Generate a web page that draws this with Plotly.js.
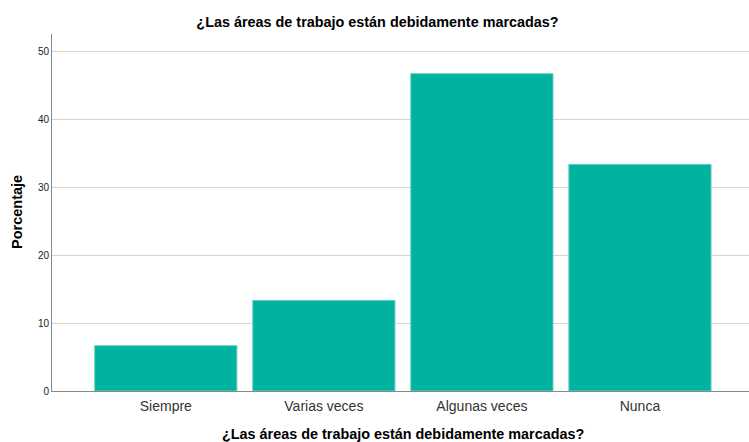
<!DOCTYPE html>
<html>
<head>
<meta charset="utf-8">
<script src="https://cdn.plot.ly/plotly-3.0.1.min.js"></script>
<style>html,body{margin:0;padding:0;background:#fff;}#chart{width:749px;height:442px;}</style>
</head>
<body>
<div id="chart"></div>
<script>
const categories = ["Siempre", "Varias veces", "Algunas veces", "Nunca"];
const percentages = [6.67, 13.33, 46.67, 33.33];
const yTicks = [0, 10, 20, 30, 40, 50];
const titleText = "¿Las áreas de trabajo están debidamente marcadas?";

const trace = {
  type: "bar",
  x: categories,
  y: percentages,
  width: 0.9,
  marker: { color: "#00b2a0", line: { color: "#6fd0c4", width: 1 } },
  hoverinfo: "x+y"
};

const layout = {
  width: 749,
  height: 442,
  margin: { l: 52, r: 0, t: 34, b: 51 },
  paper_bgcolor: "#ffffff",
  plot_bgcolor: "#ffffff",
  font: { family: "Liberation Sans, Arial, sans-serif", color: "#000" },
  title: {
    text: "<b>" + titleText + "</b>",
    font: { size: 14.4, family: "Liberation Sans, Arial, sans-serif", color: "#000" },
    x: 377.5 / 749, xanchor: "center", xref: "container",
    y: 1 - 22 / 442, yanchor: "middle", yref: "container"
  },
  xaxis: {
    type: "category",
    range: [-0.72, 3.69],
    showgrid: false,
    showline: true,
    linecolor: "#888888",
    linewidth: 1,
    ticks: "",
    ticklabelstandoff: 2,
    tickfont: { size: 14, color: "#333" },
    zeroline: false
  },
  yaxis: {
    range: [0, 52.5],
    tickvals: yTicks,
    ticktext: yTicks.map(String),
    showgrid: true,
    gridcolor: "#d4d4d4",
    gridwidth: 1,
    showline: true,
    linecolor: "#888888",
    linewidth: 1,
    ticks: "",
    tickfont: { size: 10, color: "#222" },
    zeroline: false
  },
  annotations: [
    {
      text: "<b>" + titleText + "</b>",
      xref: "paper", yref: "paper",
      x: (402.5 - 52) / 697, y: -(434 - 391) / 357,
      xanchor: "center", yanchor: "middle",
      showarrow: false,
      font: { size: 14.4, color: "#000" }
    },
    {
      text: "<b>Porcentaje</b>",
      xref: "paper", yref: "paper",
      x: -(52 - 17) / 697, y: (391 - 212) / 357,
      xanchor: "center", yanchor: "middle",
      textangle: -90,
      showarrow: false,
      font: { size: 14.5, color: "#000" }
    }
  ],
  bargap: 0.1,
  showlegend: false
};

Plotly.newPlot("chart", [trace], layout, { displayModeBar: false, staticPlot: true });
</script>
</body>
</html>
